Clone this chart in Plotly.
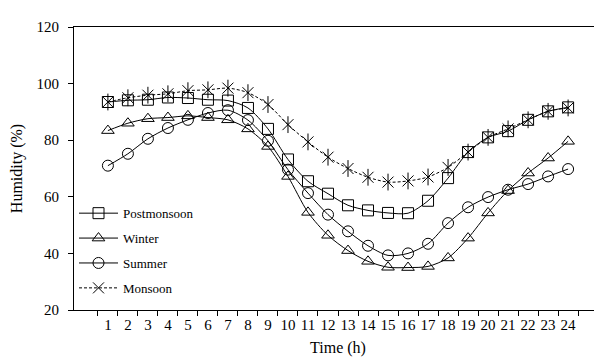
import plotly.graph_objects as go

hours = [str(h) for h in range(1, 25)]
postmonsoon = [93.5, 94.1, 94.3, 95.1, 94.9, 94.3, 94.0, 91.4, 84.0, 73.2, 65.5, 61.1, 57.0, 55.2, 54.3, 54.2, 58.6, 66.6, 75.8, 81.0, 83.2, 87.2, 90.2, 91.6]
winter = [83.4, 86.0, 87.6, 88.0, 88.6, 88.0, 87.2, 84.0, 77.8, 67.2, 54.5, 46.4, 41.0, 37.2, 35.1, 35.0, 35.4, 38.4, 45.4, 54.3, 62.2, 68.4, 73.7, 79.6]
summer = [71.0, 75.2, 80.5, 84.3, 87.2, 89.6, 90.6, 87.1, 79.8, 69.6, 61.3, 53.7, 47.8, 42.7, 39.3, 40.0, 43.4, 50.7, 56.3, 59.9, 62.5, 64.5, 67.2, 69.8]
monsoon = [93.5, 95.0, 95.9, 96.4, 97.5, 97.8, 98.4, 96.8, 92.6, 85.5, 79.4, 74.0, 70.0, 66.9, 65.2, 65.6, 67.0, 70.4, 75.8, 81.0, 84.0, 87.2, 90.2, 91.4]

FONT = "Liberation Serif, Times New Roman, serif"
fig = go.Figure()

def add(name, y, symbol, dash="solid", showlegend=True, group=None):
    fig.add_trace(go.Scatter(
        x=hours, y=y, name=name, mode="lines+markers",
        line=dict(color="black", width=1, dash=dash, shape="spline", smoothing=0.8),
        marker=dict(symbol=symbol, size=11, color="black", line=dict(width=1, color="black")),
        showlegend=showlegend, legendgroup=group or name,
    ))

add("Postmonsoon", postmonsoon, "square-open")
add("Winter", winter, "triangle-up-open")
add("Summer", summer, "circle-open")
add("Monsoon", monsoon, "x-thin-open", dash="3px,2px")
fig.add_trace(go.Scatter(
    x=hours, y=monsoon, mode="markers", showlegend=False, legendgroup="Monsoon",
    marker=dict(symbol="line-ns-open", size=12, color="black", line=dict(width=1, color="black")),
    hoverinfo="skip",
))

fig.update_layout(
    width=602, height=361,
    margin=dict(l=64, r=7, t=19, b=59),
    paper_bgcolor="white", plot_bgcolor="white",
    font=dict(family=FONT, size=15, color="black"),
    legend=dict(x=0.0, y=0.395, xanchor="left", yanchor="top",
                bgcolor="rgba(0,0,0,0)", font=dict(family=FONT, size=13),
                tracegroupgap=5, traceorder="grouped", itemwidth=39),
    xaxis=dict(
        type="category", tickson="boundaries", ticks="outside", ticklen=5,
        tickcolor="black", showline=True, linecolor="black", linewidth=1,
        mirror=True, showgrid=False, ticklabelstandoff=1, tickangle=0,
        title=dict(text="Time (h)", font=dict(family=FONT, size=16), standoff=9),
        tickfont=dict(family=FONT, size=15),
    ),
    yaxis=dict(
        range=[20, 120], tickvals=[20, 40, 60, 80, 100, 120], ticks="outside", ticklen=5,
        tickcolor="black", showline=True, linecolor="black", linewidth=1,
        mirror=True, showgrid=False, zeroline=False, ticklabelstandoff=6,
        title=dict(text="Humidity (%)", font=dict(family=FONT, size=16), standoff=10),
        tickfont=dict(family=FONT, size=15),
    ),
)

fig.write_html("out.html")
